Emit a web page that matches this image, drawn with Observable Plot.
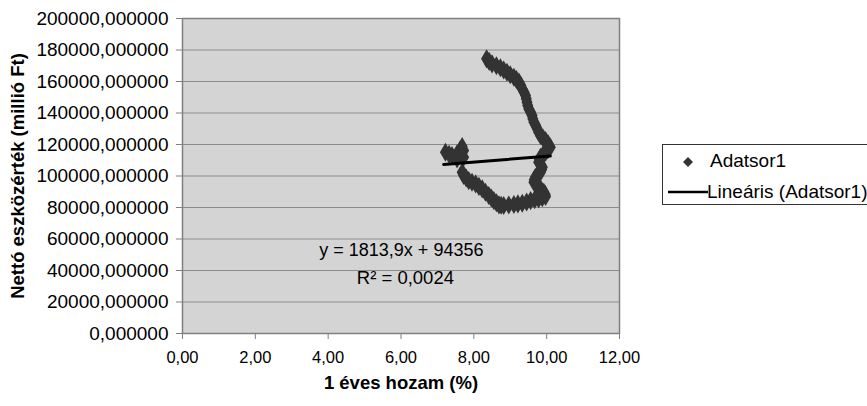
<!DOCTYPE html>
<html>
<head>
<meta charset="utf-8">
<script src="https://cdn.jsdelivr.net/npm/d3@7"></script>
<script src="https://cdn.jsdelivr.net/npm/@observablehq/plot@0.6"></script>
<style>
  html, body { margin: 0; padding: 0; background: #fff; }
  #wrap { position: relative; width: 867px; height: 406px; overflow: hidden; font-family: "Liberation Sans", Arial, sans-serif; }
  #legend { position: absolute; left: 662px; top: 144px; width: 240px; height: 61px; border: 1px solid #333; background: #fff; box-sizing: border-box; }
  #legend .row { position: absolute; font-size: 19px; color: #000; white-space: nowrap; }
</style>
</head>
<body>
<div id="wrap">
  <div id="chart"></div>
  <div id="legend">
    <svg width="50" height="60" style="position:absolute;left:0;top:0">
      <path d="M25,12 L30,17 L25,22 L20,17 Z" fill="#333"></path>
      <line x1="5" x2="45" y1="47" y2="47" stroke="#000" stroke-width="2.5"></line>
    </svg>
    <div class="row" style="left:47px;top:5px">Adatsor1</div>
    <div class="row" style="left:44px;top:36px">Lineáris (Adatsor1)</div>
  </div>
</div>
<script>
// 1 éves hozam (%)
const hozam = [
  8.35, 8.42, 8.50, 8.62, 8.73, 8.82, 8.91, 9.00, 9.10, 9.17,
  9.24, 9.29, 9.33, 9.38, 9.42, 9.44, 9.46, 9.48, 9.51, 9.56,
  9.60, 9.62, 9.65, 9.70, 9.74, 9.78, 9.83, 9.90, 9.97, 10.04,
  10.10, 10.03, 9.97, 9.90, 9.83, 9.80, 9.78, 9.84, 9.88, 9.86,
  9.83, 9.76, 9.69, 9.66, 9.65, 9.71, 9.78, 9.85, 9.92, 9.96,
  9.97, 9.88, 9.78, 9.67, 9.56, 9.45, 9.33, 9.21, 9.10, 8.96,
  8.82, 8.75, 8.69, 8.62, 8.55, 8.48, 8.41, 8.32, 8.23, 8.14,
  8.05, 7.95, 7.86, 7.79, 7.72, 7.68,
  7.22, 7.32, 7.40, 7.54, 7.62, 7.68, 7.72, 7.72, 7.54
];
// Nettó eszközérték (millió Ft)
const eszkozertek = [
  174400, 172800, 171200, 170000, 168700, 167300, 165900, 164300, 162700, 161200,
  159600, 157500, 155300, 153200, 151100, 149000, 146900, 144700, 142600, 140500,
  138400, 136300, 134200, 132100, 130000, 127800, 125700, 124100, 122500, 120400,
  118300, 116700, 115100, 113500, 111900, 110300, 108800, 107200, 105600, 104000,
  102400, 100800, 99200, 97600, 96100, 94500, 92900, 91300, 89700, 88300,
  87000, 86200, 85500, 85000, 84400, 83500, 82700, 82300, 81900, 81600,
  81300, 81400, 81700, 83000, 84400, 86000, 87600, 89700, 91800, 93400,
  95000, 96000, 97100, 98700, 100300, 102400,
  115100, 113800, 113000, 114100, 116500, 118700, 116200, 111900, 110900
];
// Trend line (Lineáris) coefficients
const slope = [1813.9];
const intercept = [94356];
const r2 = [0.0024];

const xTicks = [0, 2, 4, 6, 8, 10, 12];
const yTicks = [0, 20000, 40000, 60000, 80000, 100000, 120000, 140000, 160000, 180000, 200000];

const xTitle = "1 éves hozam (%)";
const yTitle = "Nettó eszközérték (millió Ft)";

const points = hozam.map((x, i) => ({x, y: eszkozertek[i]}));
const [xmin, xmax] = d3.extent(hozam);
const trend = [xmin - 0.05, xmax].map(x => ({x, y: slope[0] * x + intercept[0]}));

const comma = (v, d) => v.toFixed(d).replace(".", ",");
const eq1 = `y = ${comma(slope[0], 1)}x + ${intercept[0]}`;
const eq2 = `R² = ${comma(r2[0], 4)}`;

const chart = Plot.plot({
  width: 867,
  height: 406,
  marginLeft: 182,
  marginRight: 248,
  marginTop: 18,
  marginBottom: 73,
  style: {fontFamily: "'Liberation Sans', Arial, sans-serif", background: "transparent", color: "#000"},
  x: {domain: [0, 12]},
  y: {domain: [0, 200000]},
  marks: [
    Plot.frame({fill: "#d4d4d4", stroke: null}),
    Plot.gridY(yTicks, {stroke: "#8c8c8c", strokeOpacity: 1, strokeWidth: 1}),
    Plot.frame({stroke: "#808080", strokeWidth: 1.5}),
    Plot.axisY(yTicks, {tickSize: 6, tickPadding: 8, fontSize: 19, stroke: "#808080", tickFormat: d => comma(d, 6), label: null}),
    Plot.axisX(xTicks, {tickSize: 6, tickPadding: 12, fontSize: 16.5, stroke: "#808080", tickFormat: d => comma(d, 2), label: null}),
    Plot.dot(points, {x: "x", y: "y", symbol: "diamond", r: 5.8, fill: "#333", stroke: null}),
    Plot.line(trend, {x: "x", y: "y", stroke: "#000", strokeWidth: 3}),
    Plot.text([eq1], {x: 6.01, y: 52700, text: d => d, fontSize: 18, fill: "#000"}),
    Plot.text([eq2], {x: 6.12, y: 34900, text: d => d, fontSize: 18.5, fill: "#000"}),
    Plot.text([xTitle], {frameAnchor: "bottom", dy: 55, text: d => d, fontSize: 18.5, fontWeight: "bold", fill: "#000"}),
    Plot.text([yTitle], {frameAnchor: "left", dx: -164, rotate: -90, textAnchor: "middle", text: d => d, fontSize: 18.5, fontWeight: "bold", fill: "#000"})
  ]
});
document.getElementById("chart").appendChild(chart);
</script>
</body>
</html>
